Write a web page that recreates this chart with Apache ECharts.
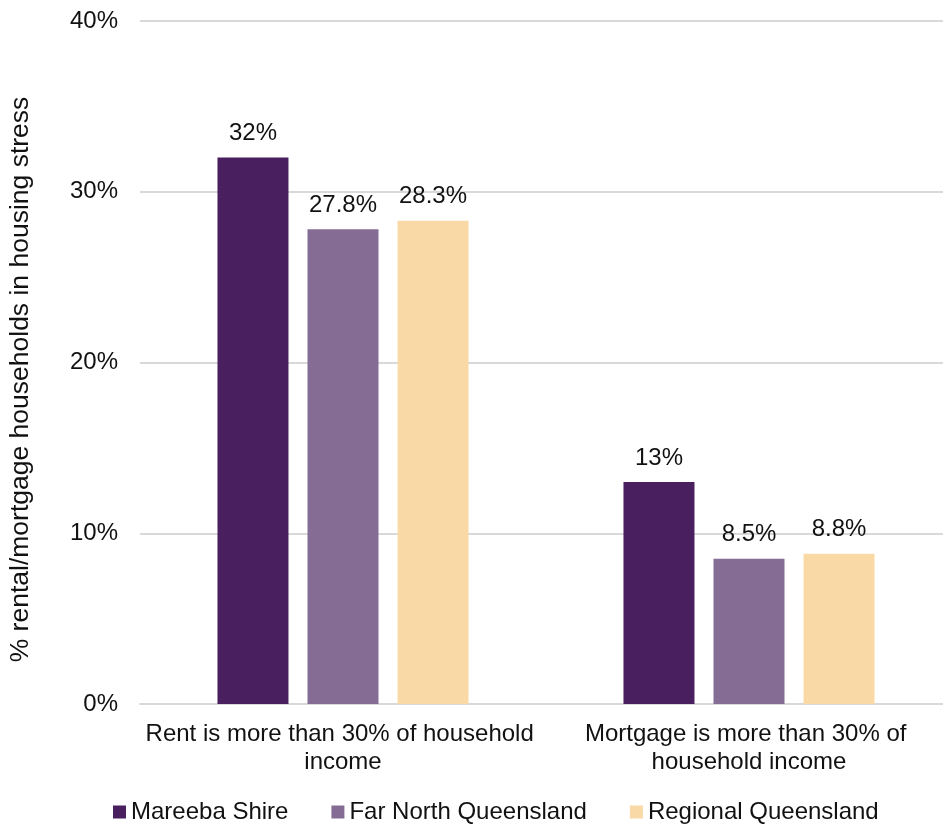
<!DOCTYPE html>
<html>
<head>
<meta charset="utf-8">
<script src="https://cdn.jsdelivr.net/npm/echarts@6/dist/echarts.min.js"></script>
<style>
  html, body { margin: 0; padding: 0; background: #fff; }
  #chart { width: 943px; height: 828px; }
</style>
</head>
<body>
<div id="chart"></div>
<script>
// Housing stress measures (categories on the x axis)
const categories = [
  'Rent is more than 30% of household income',
  'Mortgage is more than 30% of household income'
];
// Share of rental/mortgage households in housing stress, in percent
const mareebaShire = [32, 13];
const farNorthQueensland = [27.8, 8.5];
const regionalQueensland = [28.3, 8.8];
const yTicks = [0, 10, 20, 30, 40];

const seriesNames = ['Mareeba Shire', 'Far North Queensland', 'Regional Queensland'];
const seriesValues = [mareebaShire, farNorthQueensland, regionalQueensland];
const colors = ['#4a1f5f', '#846c94', '#f9d9a6'];

const FONT = '"Liberation Sans", Arial, sans-serif';
const TEXT = '#111111';
const SIZE = 24;

const chart = echarts.init(document.getElementById('chart'));
chart.setOption({
  animation: false,
  textStyle: { fontFamily: FONT },
  // plot area runs a little past the right edge of the canvas
  grid: {
    left: 140, width: 812, top: 21, bottom: 124,
    containLabel: false,
    outerBoundsMode: 'none'
  },
  legend: {
    left: 108,
    top: 795,
    itemWidth: 13,
    itemHeight: 13,
    itemGap: 43,
    icon: 'rect',
    textStyle: { fontSize: SIZE, color: TEXT, fontFamily: FONT },
    data: seriesNames
  },
  xAxis: {
    type: 'category',
    data: categories,
    axisLine: { show: true, lineStyle: { color: '#d9d9d9', width: 2 } },
    axisTick: { show: false },
    axisLabel: {
      fontSize: SIZE,
      color: TEXT,
      fontFamily: FONT,
      margin: 16,
      lineHeight: 28,
      width: 400,
      overflow: 'break',
      interval: 0
    }
  },
  yAxis: {
    type: 'value',
    min: yTicks[0],
    max: yTicks[yTicks.length - 1],
    interval: 10,
    name: '% rental/mortgage households in housing stress',
    nameLocation: 'middle',
    nameGap: 106,
    nameRotate: 90,
    nameTextStyle: {
      fontSize: 26.5,
      color: TEXT,
      fontFamily: FONT,
      padding: [0, 34, 0, 0]
    },
    axisLine: { show: false },
    axisTick: { show: false },
    splitLine: { lineStyle: { color: '#d9d9d9', width: 2 } },
    axisLabel: {
      fontSize: SIZE,
      color: TEXT,
      fontFamily: FONT,
      margin: 22,
      formatter: v => v + '%'
    }
  },
  series: seriesNames.map((name, i) => ({
    name,
    type: 'bar',
    data: seriesValues[i],
    barWidth: 71,
    barGap: '26.8%',
    itemStyle: { color: colors[i] },
    label: {
      show: true,
      position: 'top',
      distance: 12,
      fontSize: SIZE,
      color: TEXT,
      fontFamily: FONT,
      formatter: p => p.value + '%'
    }
  }))
});
</script>
</body>
</html>
